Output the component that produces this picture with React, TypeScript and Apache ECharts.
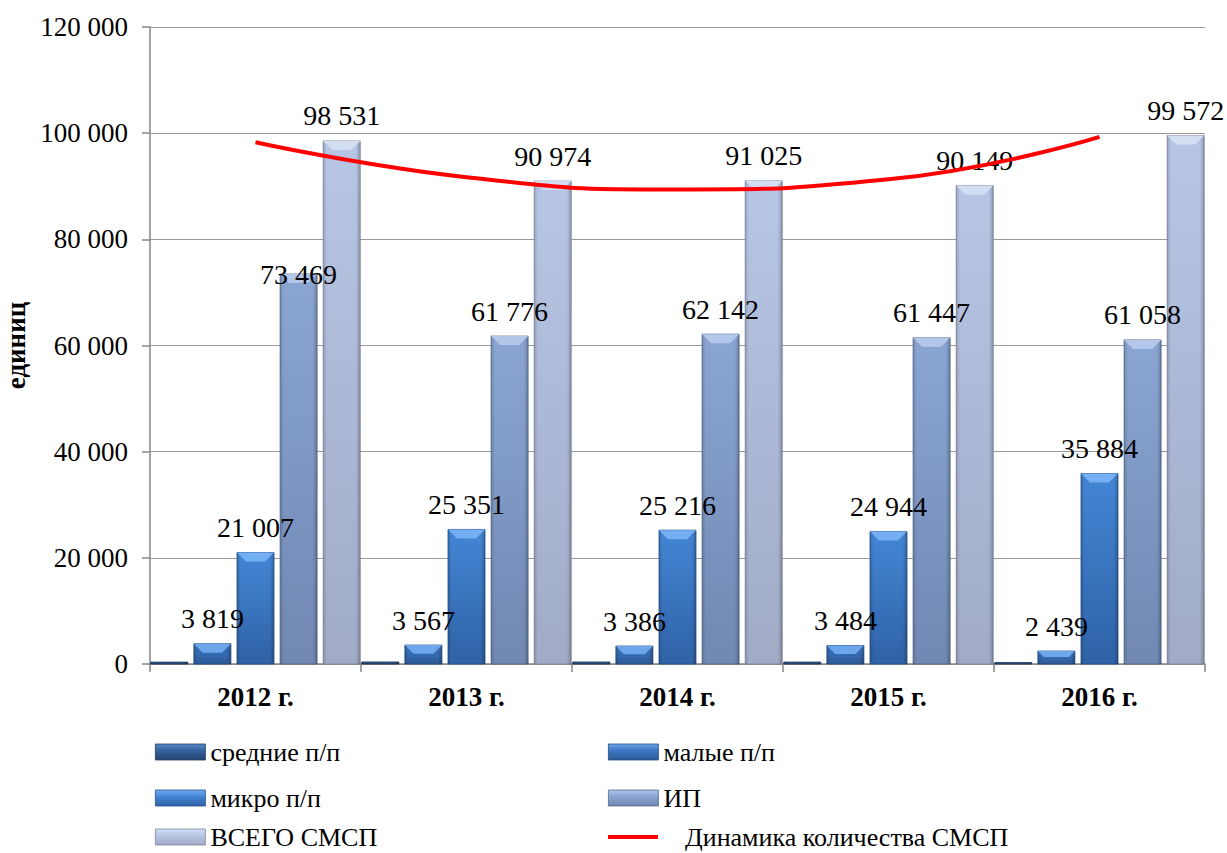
import React, { useEffect, useRef } from 'react';
import * as echarts from 'echarts';

const categories = ['2012 г.', '2013 г.', '2014 г.', '2015 г.', '2016 г.'];
const seriesNames = ['средние п/п', 'малые п/п', 'микро п/п', 'ИП', 'ВСЕГО СМСП'];
const srednie = [360, 390, 380, 370, 290];
const malye = [3819, 3567, 3386, 3484, 2439];
const mikro = [21007, 25351, 25216, 24944, 35884];
const ip = [73469, 61776, 62142, 61447, 61058];
const vsego = [98531, 90974, 91025, 90149, 99572];
const trendName = 'Динамика количества СМСП';
const trend = [98300, 91700, 89400, 91300, 99300];
const yMin = 0;
const yMax = 120000;
const yStep = 20000;

const palettes = [
  { bevel: '#5a88c8', top: '#35619e', bottom: '#26466f', stroke: '#1d3658' },
  { bevel: '#6ea6ec', top: '#3d78c4', bottom: '#2d5a98', stroke: '#244a7d' },
  { bevel: '#74aef3', top: '#4386d5', bottom: '#2f62a6', stroke: '#274f88' },
  { bevel: '#b3c7ea', top: '#8ba5d3', bottom: '#7088b2', stroke: '#56688a' },
  { bevel: '#d3def3', top: '#b7c6e5', bottom: '#a1abc6', stroke: '#7c859c' },
];

const FONT = 'Liberation Serif';

const fmt = (v: number) => String(Math.round(v)).replace(/\B(?=(\d{3})+(?!\d))/g, ' ');

const vgrad = (a: string, b: string) => ({
  type: 'linear', x: 0, y: 0, x2: 0, y2: 1,
  colorStops: [{ offset: 0, color: a }, { offset: 1, color: b }],
});

const hshade = {
  type: 'linear', x: 0, y: 0, x2: 1, y2: 0,
  colorStops: [
    { offset: 0, color: 'rgba(0,0,0,0.16)' },
    { offset: 0.1, color: 'rgba(0,0,0,0)' },
    { offset: 0.88, color: 'rgba(0,0,0,0)' },
    { offset: 1, color: 'rgba(0,0,0,0.22)' },
  ],
};

function makeRender(idx: number, showLabel: boolean) {
  const pal = palettes[idx];
  return (params: any, api: any) => {
    const c = api.value(0);
    const v = api.value(1);
    const base = api.coord([c, 0]);
    const top = api.coord([c, v]);
    const band = api.size([1, 0])[0];
    const pitch = band * 0.2043;
    const w = band * 0.1754;
    const cx = base[0] + (idx - 2) * pitch;
    const x = cx - w / 2;
    const h = Math.max(base[1] - top[1], 1.5);
    const y = base[1] - h;
    const b = Math.min(9, h / 2.2, w / 4);
    const children: any[] = [
      { type: 'rect', shape: { x, y, width: w, height: h }, style: { fill: vgrad(pal.top, pal.bottom), stroke: pal.stroke, lineWidth: 0.8 } },
      { type: 'rect', shape: { x, y, width: w, height: h }, style: { fill: hshade } },
    ];
    if (h > 5) {
      children.push({
        type: 'polygon',
        shape: { points: [[x, y], [x + w, y], [x + w - b, y + b], [x + b, y + b]] },
        style: { fill: pal.bevel },
      });
    }
    if (showLabel) {
      const raise = idx === 3 && c === 0 ? 0 : 25;
      children.push({
        type: 'text',
        z2: 100,
        style: {
          text: fmt(v), x: cx, y: y - raise, align: 'center', verticalAlign: 'middle',
          fontFamily: FONT, fontSize: 28, fill: '#000',
        },
      });
    }
    return { type: 'group', children };
  };
}

const legendGrad = (idx: number) =>
  new echarts.graphic.LinearGradient(0, 0, 0, 1, [
    { offset: 0, color: palettes[idx].bevel },
    { offset: 0.4, color: palettes[idx].top },
    { offset: 1, color: palettes[idx].bottom },
  ]);

export default function App() {
  const ref = useRef<HTMLDivElement>(null);
  useEffect(() => {
    if (!ref.current) return;
    const chart = echarts.init(ref.current, null, { renderer: 'svg' });
    const allData = [srednie, malye, mikro, ip, vsego];
    const legendText = { fontFamily: FONT, fontSize: 26, lineHeight: 24, color: '#000' };
    const legendPos = [
      [155, 739], [608, 739], [155, 785], [608, 785], [155, 824],
    ];
    const legends: any[] = allData.map((_, i) => ({
      left: legendPos[i][0], top: legendPos[i][1], padding: 0, itemWidth: 50, itemHeight: 16,
      selectedMode: false, textStyle: legendText,
      data: [{ name: seriesNames[i], icon: 'rect', itemStyle: { color: legendGrad(i), borderColor: palettes[i].stroke, borderWidth: 0.8 } }],
    }));
    legends.push({
      left: 608, top: 824, padding: 0, itemWidth: 50, itemHeight: 16,
      selectedMode: false, textStyle: legendText,
      data: [{ name: trendName, icon: 'path://M0 0H48V4H0Z', itemStyle: { color: '#ff0000' }, textStyle: { padding: [0, 0, 0, 22] } }],
    });
    chart.setOption({
      animation: false,
      backgroundColor: '#ffffff',
      grid: { left: 150, right: 22, top: 27, bottom: 189, containLabel: false, outerBoundsMode: 'none' },
      xAxis: {
        type: 'category',
        data: categories,
        boundaryGap: true,
        axisLine: { show: true, lineStyle: { color: '#868686', width: 1.5 } },
        axisTick: { show: true, length: 8, alignWithLabel: false, lineStyle: { color: '#868686', width: 1.5 } },
        axisLabel: { margin: 19, fontFamily: FONT, fontSize: 27, fontWeight: 'bold', color: '#000' },
      },
      yAxis: {
        type: 'value',
        min: yMin,
        max: yMax,
        interval: yStep,
        name: 'единиц',
        nameLocation: 'middle',
        nameGap: 118,
        nameRotate: 90,
        nameTextStyle: { fontFamily: FONT, fontSize: 27, fontWeight: 'bold', color: '#000' },
        axisLine: { show: true, lineStyle: { color: '#868686', width: 1.5 } },
        axisTick: { show: true, length: 8, lineStyle: { color: '#868686', width: 1.5 } },
        axisLabel: { margin: 22, fontFamily: FONT, fontSize: 27, color: '#000', formatter: (v: number) => fmt(v) },
        splitLine: { show: true, lineStyle: { color: '#9a9a9a', width: 1.2 } },
      },
      legend: legends,
      series: [
        ...allData.map((arr, i) => ({
          type: 'custom',
          name: seriesNames[i],
          itemStyle: { color: palettes[i].top },
          renderItem: makeRender(i, i > 0),
          encode: { x: 0, y: 1 },
          data: arr.map((v, j) => [j, v]),
          z: 2,
        })),
        {
          type: 'line',
          name: trendName,
          data: trend,
          smooth: true,
          symbol: 'none',
          itemStyle: { color: '#ff0000' },
          lineStyle: { color: '#ff0000', width: 4 },
          z: 10,
        },
      ],
    });
    return () => chart.dispose();
  }, []);
  return <div ref={ref} style={{ position: 'absolute', left: 0, top: 0, width: 1227, height: 853, background: '#fff' }} />;
}
